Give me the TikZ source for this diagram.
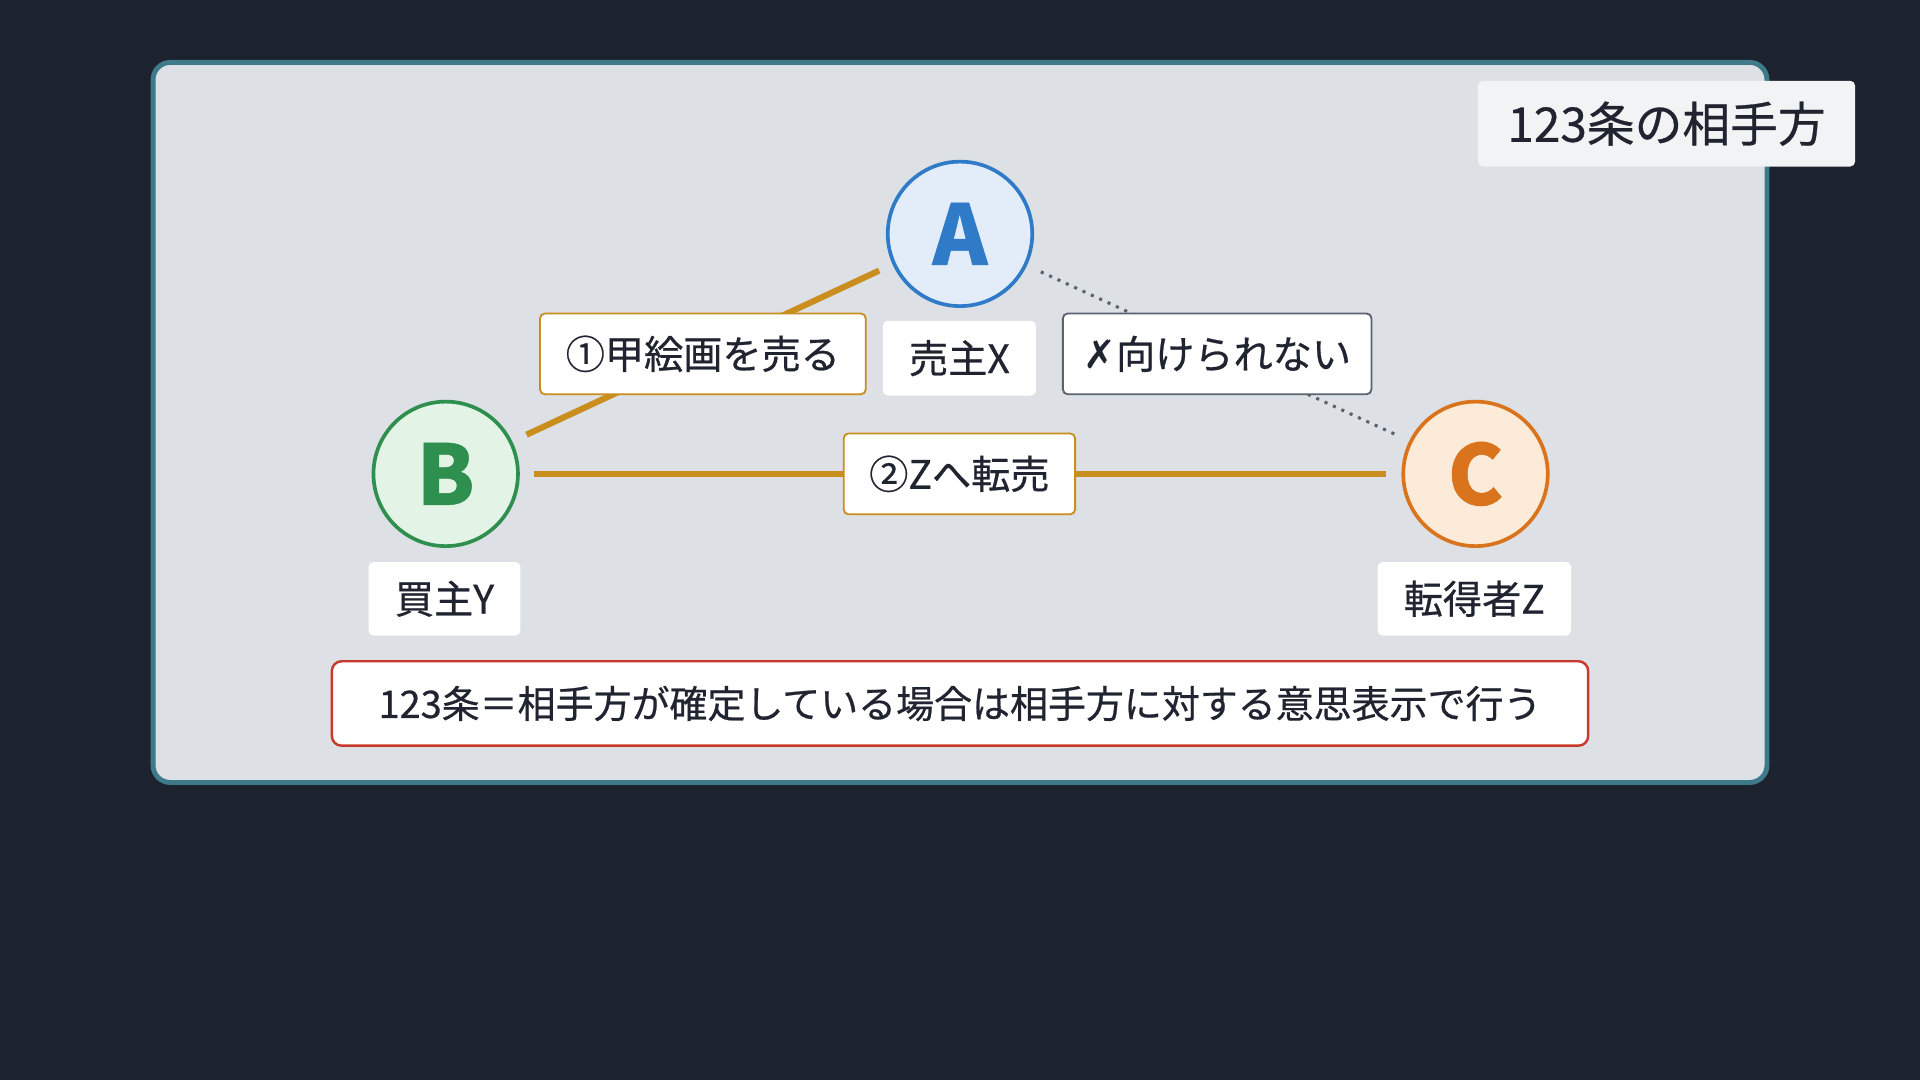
\documentclass[tikz,border=0pt]{standalone}
\usepackage{fontspec}
\setmainfont{Noto Sans CJK JP}[FakeBold=0.6]
\newfontfamily\dejavu{DejaVu Sans}
\begin{document}
\definecolor{bg}{HTML}{1D232E}
\definecolor{panel}{HTML}{DDE0E4}
\definecolor{panelb}{HTML}{3F7A8A}
\definecolor{gold}{HTML}{C98E1E}
\definecolor{ablue}{HTML}{2F7BC8}\definecolor{afill}{HTML}{E3EDF9}
\definecolor{bgreen}{HTML}{2F8F4E}\definecolor{bfill}{HTML}{E3F4E6}
\definecolor{corange}{HTML}{D9741C}\definecolor{cfill}{HTML}{FDEBD9}
\definecolor{grayb}{HTML}{5A6270}
\definecolor{redb}{HTML}{C8392B}
\definecolor{txt}{HTML}{1F2430}
\begin{tikzpicture}[x=1pt,y=-1pt,
  circ/.style={circle,minimum size=118pt,line width=3pt,inner sep=0pt,font=\fontsize{68}{70}\selectfont\bfseries},
  lab/.style={fill=white,rounded corners=4pt,text=txt,font=\fontsize{32}{36}\selectfont,inner sep=0pt},
  edge/.style={line width=5pt,gold}]
\fill[bg] (0,0) rectangle (1568,882);
\useasboundingbox (0,0) rectangle (1568,882);
\draw[panelb,fill=panel,line width=4pt,rounded corners=14pt] (125,51) rectangle (1443,639);
\node[lab,fill=white!60!panel,minimum width=308pt,minimum height=70pt,font=\fontsize{39}{42}\selectfont] (title) at (1361,101) {123条の相手方};
\node[circ,draw=ablue,fill=afill,text=ablue] (A) at (784,191) {A};
\node[circ,draw=bgreen,fill=bfill,text=bgreen] (B) at (364,387) {B};
\node[circ,draw=corange,fill=cfill,text=corange] (C) at (1205,387) {C};
\coordinate (a1) at (718,221); \coordinate (b1) at (430,355);
\coordinate (b2) at (436,387); \coordinate (c2) at (1132,387);
\coordinate (a3) at (850,222); \coordinate (c3) at (1140,355);
\draw[edge] (a1) -- (b1);
\draw[edge] (b2) -- (c2);
\draw[grayb,line width=2.5pt,dash pattern=on 2.5pt off 5pt] (a3) -- (c3);
\node[lab,minimum width=125pt,minimum height=61pt] (lx) at (783.5,292.5) {売主X};
\node[lab,minimum width=124pt,minimum height=60pt] (ly) at (363,489) {買主Y};
\node[lab,minimum width=158pt,minimum height=60pt] (lz) at (1204,489) {転得者Z};
\node[lab,draw=gold,line width=1.5pt,minimum width=266pt,minimum height=66pt] (e1) at (574,289) {①甲絵画を売る};
\node[lab,draw=gold,line width=1.5pt,minimum width=189pt,minimum height=66pt] (e2) at (783.5,387) {②Zへ転売};
\node[lab,draw=grayb,line width=1.5pt,minimum width=252pt,minimum height=66pt] (e3) at (994,289) {{\dejavu ✗}向けられない};
\node[lab,draw=redb,line width=2pt,rounded corners=8pt,minimum width=1026pt,minimum height=69pt,font=\fontsize{31}{34}\selectfont] (note) at (784,574.5) {123条＝相手方が確定している場合は相手方に対する意思表示で行う};
\end{tikzpicture}
\end{document}
